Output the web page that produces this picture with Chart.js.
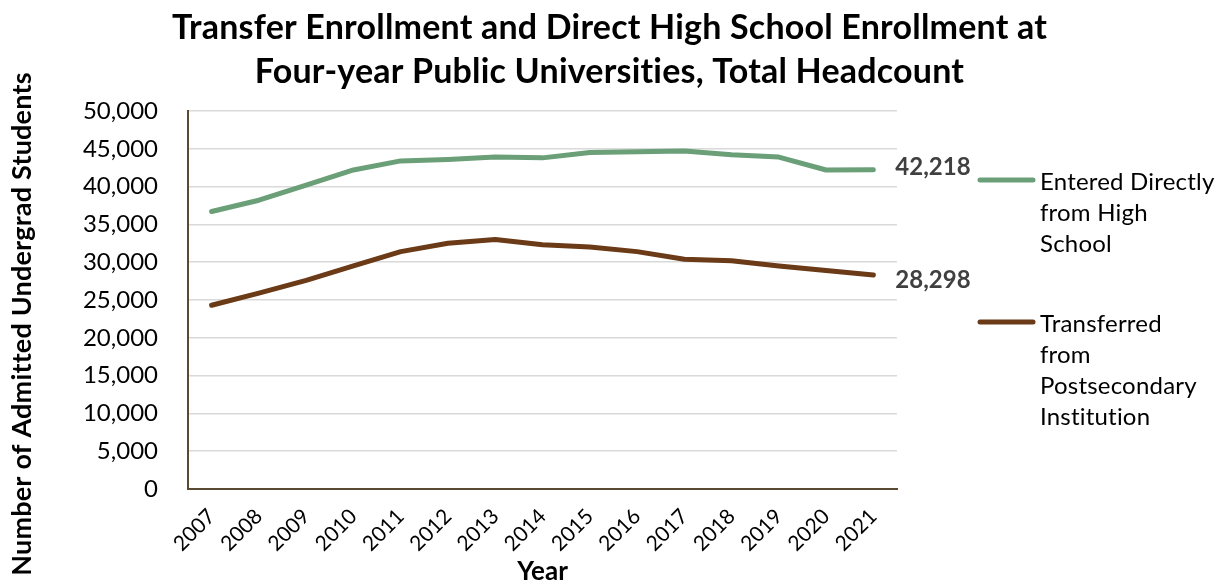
<!DOCTYPE html>
<html>
<head>
<meta charset="utf-8">
<script src="https://cdn.jsdelivr.net/npm/chart.js@4.4.0/dist/chart.umd.min.js"></script>
<style>
  html, body { margin: 0; padding: 0; background: #fff; }
  #wrap { width: 1215px; height: 584px; }
  canvas { font-variant-ligatures: none; }
</style>
</head>
<body>
<div id="wrap"><canvas id="myChart"></canvas></div>
<script>
const years = ['2007', '2008', '2009', '2010', '2011', '2012', '2013', '2014',
  '2015', '2016', '2017', '2018', '2019', '2020', '2021'];
const directHS = [36700, 38200, 40200, 42200, 43400, 43600, 43900, 43800,
  44500, 44600, 44700, 44200, 43900, 42200, 42218];
const transfer = [24300, 25900, 27600, 29500, 31400, 32500, 33000, 32300,
  32000, 31400, 30400, 30200, 29500, 28900, 28298];
const seriesNames = ['Entered Directly from High School', 'Transferred from Postsecondary Institution'];
const legendLines = [['Entered Directly', 'from High', 'School'], ['Transferred', 'from', 'Postsecondary', 'Institution']];
const titleLines = ['Transfer Enrollment and Direct High School Enrollment at',
  'Four-year Public Universities, Total Headcount'];

const green = '#6a9f78';
const brown = '#6b3a17';
const axisBrown = '#5b4a33';
const FONT = 'Lato, "Open Sans", sans-serif';

// plain glyphs: no "ti"/"tt" ligatures
function plainText(ctx) {
  ctx.letterSpacing = '0.2px';
  ctx.textRendering = 'optimizeSpeed';
}

// title, end-of-line value labels, legend and rotated y title
const extras = {
  id: 'extras',
  afterDatasetsDraw(chart) {
    const ctx = chart.ctx;
    const shift = [-3, 5];
    chart.data.datasets.forEach((ds, i) => {
      const pts = chart.getDatasetMeta(i).data;
      const p = pts[pts.length - 1];
      ctx.save();
      ctx.font = 'bold 24px ' + FONT;
      ctx.fillStyle = '#404040';
      ctx.textBaseline = 'middle';
      ctx.fillText(ds.data[ds.data.length - 1].toLocaleString('en-US'), p.x + 22, p.y + shift[i]);
      ctx.restore();
    });
  },
  afterDraw(chart) {
    const ctx = chart.ctx;
    const area = chart.chartArea;

    ctx.save();
    plainText(ctx);
    ctx.font = 'bold 34px ' + FONT;
    ctx.fillStyle = '#000';
    ctx.textAlign = 'center';
    ctx.textBaseline = 'middle';
    titleLines.forEach((t, j) => ctx.fillText(t, chart.width / 2 + 2, 28 + j * 44));
    ctx.restore();

    const x0 = area.right + 83;
    const tops = [area.top + 69, area.top + 211];
    chart.data.datasets.forEach((ds, i) => {
      ctx.save();
      ctx.strokeStyle = ds.borderColor;
      ctx.lineWidth = 5;
      ctx.lineCap = 'round';
      ctx.beginPath();
      ctx.moveTo(x0, tops[i]);
      ctx.lineTo(x0 + 53, tops[i]);
      ctx.stroke();
      plainText(ctx);
      ctx.font = '24px ' + FONT;
      ctx.fillStyle = '#000';
      ctx.textBaseline = 'middle';
      legendLines[i].forEach((t, j) => ctx.fillText(t, x0 + 60, tops[i] + 2 + j * 31));
      ctx.restore();
    });

    ctx.save();
    plainText(ctx);
    ctx.translate(22, 324);
    ctx.rotate(-Math.PI / 2);
    ctx.font = 'bold 27px ' + FONT;
    ctx.fillStyle = '#000';
    ctx.textAlign = 'center';
    ctx.textBaseline = 'middle';
    ctx.fillText('Number of Admitted Undergrad Students', 0, 0);
    ctx.restore();
  }
};

new Chart(document.getElementById('myChart'), {
  type: 'line',
  data: {
    labels: years,
    datasets: [{
      label: seriesNames[0],
      data: directHS,
      borderColor: green,
      backgroundColor: green,
      borderWidth: 5,
      pointRadius: 0,
      borderCapStyle: 'round',
      borderJoinStyle: 'round',
    }, {
      label: seriesNames[1],
      data: transfer,
      borderColor: brown,
      backgroundColor: brown,
      borderWidth: 5,
      pointRadius: 0,
      borderCapStyle: 'round',
      borderJoinStyle: 'round',
    }]
  },
  options: {
    responsive: true,
    maintainAspectRatio: false,
    animation: false,
    layout: { padding: { left: 0, right: 318, top: 111, bottom: 0 } },
    plugins: {
      legend: { display: false },
      tooltip: { enabled: false },
      title: { display: false },
    },
    scales: {
      x: {
        offset: true,
        grid: { display: false, drawTicks: false },
        border: { display: true, color: axisBrown, width: 2 },
        ticks: {
          color: '#000',
          font: { family: FONT, size: 21 },
          maxRotation: 45,
          minRotation: 45,
          padding: 15,
        },
        title: {
          display: true,
          text: 'Year',
          color: '#000',
          font: { family: FONT, size: 26, weight: 'bold' },
          padding: { top: 0, bottom: -3 },
        },
        afterFit(scale) { scale.height = 95; },
      },
      y: {
        min: 0,
        max: 50000,
        ticks: {
          stepSize: 5000,
          color: '#000',
          font: { family: FONT, size: 24 },
          padding: 30,
          callback: v => v.toLocaleString('en-US'),
        },
        grid: { color: '#d9d9d9', lineWidth: 1.5, drawTicks: false },
        border: { display: true, color: axisBrown, width: 2 },
        afterFit(scale) { scale.width = 188; },
      },
    },
  },
  plugins: [extras],
});
</script>
</body>
</html>
